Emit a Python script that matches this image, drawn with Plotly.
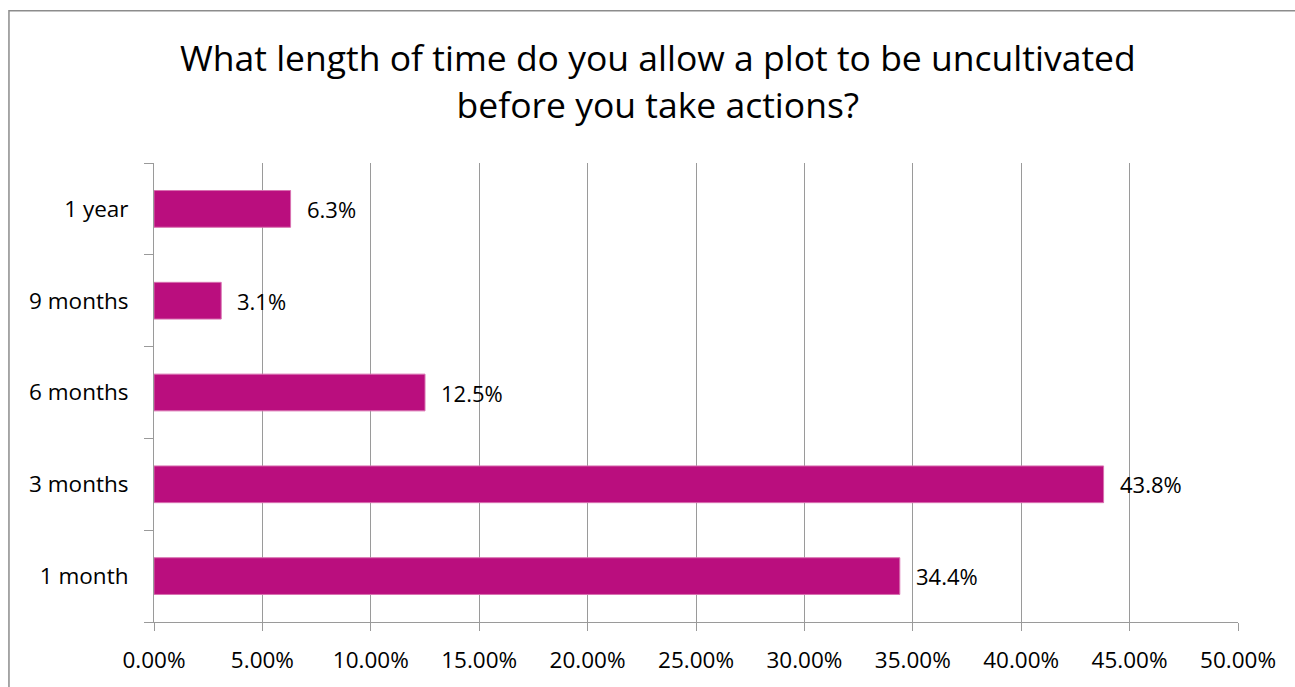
import plotly.graph_objects as go

categories = ["1 month", "3 months", "6 months", "9 months", "1 year"]
values = [34.4, 43.8, 12.5, 3.1, 6.3]
labels = ["34.4%", "43.8%", "12.5%", "3.1%", "6.3%"]
tick_vals = [0, 5, 10, 15, 20, 25, 30, 35, 40, 45, 50]
tick_text = ["0.00%", "5.00%", "10.00%", "15.00%", "20.00%", "25.00%",
             "30.00%", "35.00%", "40.00%", "45.00%", "50.00%"]

FONT = "Open Sans"
GRAY = "#9a9a9a"

fig = go.Figure()
fig.add_trace(go.Bar(
    x=values, y=categories, orientation="h",
    marker=dict(color="#BA0E7E", line=dict(color="#D870B0", width=1)),
    width=0.4, hoverinfo="skip",
))

for v, c, t in zip(values, categories, labels):
    fig.add_annotation(x=v, y=c, text=t, showarrow=False, xanchor="left",
                       xshift=14, font=dict(family=FONT, size=22, color="black"))

fig.update_layout(
    width=1295, height=687,
    margin=dict(l=154, r=57, t=163, b=63),
    paper_bgcolor="white", plot_bgcolor="white",
    showlegend=False,
    title=dict(text="What length of time do you allow a plot to be uncultivated<br>before you take actions?",
               x=0.508, xanchor="center", y=0.896, yanchor="middle",
               font=dict(family=FONT, size=35.5, color="black")),
    xaxis=dict(range=[0, 50], tickvals=tick_vals, ticktext=tick_text,
               showgrid=True, gridcolor=GRAY, gridwidth=1,
               showline=True, linecolor=GRAY, linewidth=1,
               ticks="outside", ticklen=8, tickcolor=GRAY,
               ticklabelstandoff=10,
               tickfont=dict(family=FONT, size=22.5, color="black"),
               zeroline=False, fixedrange=True),
    yaxis=dict(categoryorder="array", categoryarray=categories,
               showline=True, linecolor=GRAY, linewidth=1,
               ticks="outside", ticklen=9, tickcolor=GRAY, tickson="boundaries",
               showgrid=False, ticklabelstandoff=20,
               tickfont=dict(family=FONT, size=22.5, color="black"),
               fixedrange=True),
    shapes=[dict(type="rect", xref="paper", yref="paper",
                 x0=-0.1338, x1=1.2, y0=-0.3, y1=1.3319,
                 line=dict(color="#8c8c8c", width=1.5), fillcolor="rgba(0,0,0,0)",
                 layer="below")],
)

fig.write_html("out.html")
